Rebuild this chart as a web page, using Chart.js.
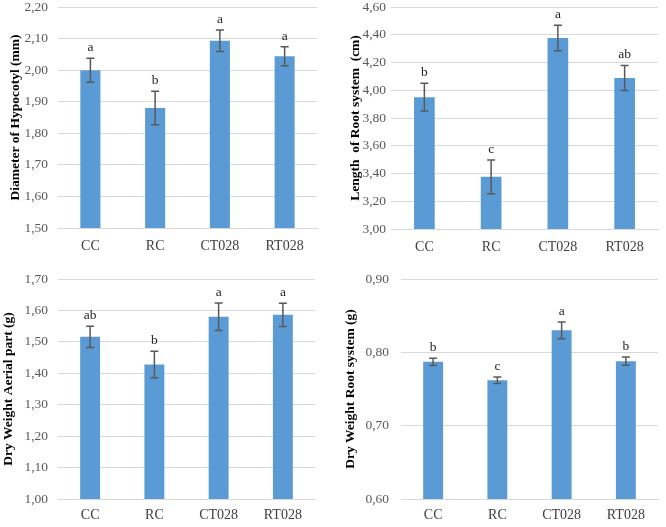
<!DOCTYPE html>
<html>
<head>
<meta charset="utf-8">
<script src="https://cdn.jsdelivr.net/npm/chart.js@4/dist/chart.umd.min.js"></script>
<style>
  html, body { margin: 0; padding: 0; background: #fff; }
  #wrap { position: relative; width: 666px; height: 527px; overflow: hidden; }
  .panel { position: absolute; width: 333px; height: 263px; }
</style>
</head>
<body>
<div id="wrap">
  <div class="panel" style="left:0;top:0"><canvas id="c1"></canvas></div>
  <div class="panel" style="left:333px;top:0"><canvas id="c2"></canvas></div>
  <div class="panel" style="left:0;top:263px;height:264px"><canvas id="c3"></canvas></div>
  <div class="panel" style="left:333px;top:263px;height:264px"><canvas id="c4"></canvas></div>
</div>
<script>
// ===== DATA =====
const categories = ['CC', 'RC', 'CT028', 'RT028'];

const hypocotylMean   = [2.000, 1.880, 2.093, 2.044];
const hypocotylErr    = [0.038, 0.053, 0.034, 0.030];
const hypocotylLetter = ['a', 'b', 'a', 'a'];

const rootLenMean   = [3.95, 3.376, 4.376, 4.088];
const rootLenErr    = [0.10, 0.122, 0.092, 0.090];
const rootLenLetter = ['b', 'c', 'a', 'ab'];

const aerialMean   = [1.516, 1.428, 1.580, 1.586];
const aerialErr    = [0.034, 0.042, 0.044, 0.037];
const aerialLetter = ['ab', 'b', 'a', 'a'];

const rootDwMean   = [0.787, 0.762, 0.830, 0.788];
const rootDwErr    = [0.005, 0.0045, 0.0115, 0.0055];
const rootDwLetter = ['b', 'c', 'a', 'b'];

// ===== ERROR BARS + LETTERS =====
const errorBarPlugin = {
  id: 'errorBars',
  afterDatasetsDraw(chart, args, opts) {
    const { ctx } = chart;
    const x = chart.scales.x, y = chart.scales.y;
    ctx.save();
    ctx.strokeStyle = '#595959';
    ctx.lineWidth = 1.5;
    opts.means.forEach((m, i) => {
      const px = x.getPixelForValue(i);
      const top = y.getPixelForValue(m + opts.errors[i]);
      const bot = y.getPixelForValue(m - opts.errors[i]);
      ctx.beginPath();
      ctx.moveTo(px, top); ctx.lineTo(px, bot);
      ctx.moveTo(px - 4, top); ctx.lineTo(px + 4, top);
      ctx.moveTo(px - 4, bot); ctx.lineTo(px + 4, bot);
      ctx.stroke();
      ctx.fillStyle = '#262626';
      ctx.font = '13.5px "Liberation Serif", serif';
      ctx.textAlign = 'center';
      ctx.textBaseline = 'bottom';
      ctx.fillText(opts.letters[i], px, top - 4);
    });
    ctx.restore();
  }
};

function renderPanel(canvasId, means, errors, letters, yMin, yMax, step, title, layout) {
  const canvas = document.getElementById(canvasId);
  return new Chart(canvas, {
    type: 'bar',
    data: {
      labels: categories,
      datasets: [{
        data: means,
        backgroundColor: '#5B9BD5',
        barPercentage: 0.31,
        categoryPercentage: 1,
      }]
    },
    plugins: [errorBarPlugin],
    options: {
      responsive: true,
      maintainAspectRatio: false,
      animation: false,
      layout: { padding: { top: layout.top, right: layout.right, left: 0, bottom: 0 } },
      plugins: {
        legend: { display: false },
        tooltip: { enabled: false },
        errorBars: { means, errors, letters },
      },
      scales: {
        x: {
          grid: { display: false, drawTicks: false },
          border: { color: '#D9D9D9' },
          ticks: {
            font: { family: 'Liberation Serif', size: 14 },
            color: '#404040',
            padding: layout.xPad,
          },
          afterFit: s => { s.height = layout.xHeight; }
        },
        y: {
          min: yMin,
          max: yMax,
          grid: { color: '#D9D9D9', drawTicks: false },
          border: { display: false },
          ticks: {
            stepSize: step,
            font: { family: 'Liberation Serif', size: 13.5 },
            color: '#595959',
            padding: layout.yPad,
            callback: v => v.toFixed(2).replace('.', ','),
          },
          title: {
            display: true,
            text: title,
            font: { family: 'Liberation Serif', size: 13.5, weight: 'bold' },
            color: '#000',
            padding: { top: layout.titlePad, bottom: 0 },
          },
          afterFit: s => {
            s.width = layout.yWidth;
            s.paddingTop = 0;
            s.paddingBottom = 0;
          }
        }
      }
    }
  });
}

renderPanel('c1', hypocotylMean, hypocotylErr, hypocotylLetter, 1.5, 2.2, 0.1,
  'Diameter of Hypocotyl (mm)',
  { top: 7, right: 16, yWidth: 58, xHeight: 35, xPad: 10, yPad: 10, titlePad: 7 });
renderPanel('c2', rootLenMean, rootLenErr, rootLenLetter, 3.0, 4.6, 0.2,
  'Length  of Root system  (cm)',
  { top: 7, right: 8, yWidth: 58, xHeight: 34, xPad: 10, yPad: 5, titlePad: 14 });
renderPanel('c3', aerialMean, aerialErr, aerialLetter, 1.0, 1.7, 0.1,
  'Dry Weight Aerial part (g)',
  { top: 16, right: 18, yWidth: 58, xHeight: 28, xPad: 8, yPad: 10, titlePad: 0 });
renderPanel('c4', rootDwMean, rootDwErr, rootDwLetter, 0.6, 0.9, 0.1,
  'Dry Weight Root system (g)',
  { top: 16, right: 8, yWidth: 68, xHeight: 28, xPad: 8, yPad: 12, titlePad: 9 });
</script>
</body>
</html>
